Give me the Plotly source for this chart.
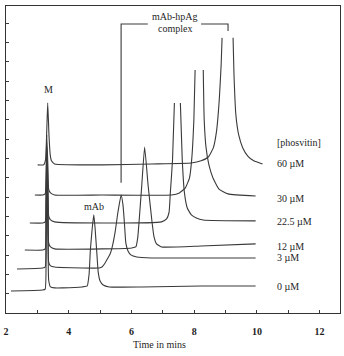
import plotly.graph_objects as go

# ---- data (time in min, detector signal in arbitrary units) ----
conc_labels = ["60 \u00b5M", "30 \u00b5M", "22.5 \u00b5M", "12 \u00b5M", "3 \u00b5M", "0 \u00b5M"]
label_levels = [7.72, 5.91, 4.72, 3.47, 2.85, 1.35]

t_0 = [2.16, 3.17, 3.25, 3.28, 3.30, 3.34, 3.36, 3.42, 3.55, 3.80, 4.43, 4.59, 4.65, 4.69, 4.75, 4.80,
       4.84, 4.89, 4.94, 5.00, 5.10, 5.29, 6.33, 8.22, 9.96]
s_0 = [1.14, 1.19, 1.24, 3.78, 7.15, 3.78, 1.71, 1.35, 1.30, 1.30, 1.35, 1.40, 2.02, 3.26, 4.40, 5.08,
       4.40, 3.26, 2.12, 1.66, 1.45, 1.35, 1.35, 1.40, 1.40]

t_3 = [2.35, 3.17, 3.25, 3.28, 3.30, 3.34, 3.36, 3.42, 3.55, 4.43, 4.97, 5.06, 5.16, 5.25, 5.32, 5.38,
       5.48, 5.57, 5.67, 5.73, 5.78, 5.82, 5.89, 5.98, 6.17, 6.64, 8.22, 9.96]
s_3 = [2.28, 2.33, 2.38, 4.82, 7.93, 4.82, 2.64, 2.44, 2.38, 2.33, 2.33, 2.38, 2.59, 2.85, 3.06, 3.37,
       4.20, 5.23, 6.11, 5.60, 4.56, 3.63, 3.21, 3.01, 2.90, 2.85, 2.85, 2.85]

t_12 = [2.60, 3.17, 3.25, 3.28, 3.30, 3.34, 3.36, 3.42, 3.55, 5.06, 6.01, 6.14, 6.20, 6.24, 6.33, 6.42,
        6.53, 6.66, 6.72, 6.80, 6.96, 8.22, 9.96]
s_12 = [3.26, 3.26, 3.32, 5.85, 8.19, 5.85, 3.63, 3.42, 3.32, 3.32, 3.37, 3.42, 3.89, 4.66, 6.63, 8.60,
        6.63, 4.66, 3.94, 3.58, 3.42, 3.47, 3.58]

t_22 = [2.76, 3.17, 3.25, 3.28, 3.30, 3.34, 3.36, 3.42, 3.55, 5.06, 6.96, 7.12, 7.20, 7.24, 7.31, 7.37,
        None, 7.56, 7.62, 7.69, 7.78, 7.91, 8.07, 8.29, 9.96]
s_22 = [4.66, 4.66, 4.72, 6.37, 8.55, 6.37, 5.03, 4.82, 4.72, 4.66, 4.72, 4.87, 5.23, 6.22, 7.93, 10.88,
        None, 10.88, 7.93, 6.22, 5.44, 5.08, 4.92, 4.82, 4.77]

t_30 = [2.92, 3.17, 3.25, 3.28, 3.30, 3.34, 3.36, 3.42, 3.55, 5.06, 7.28, 7.53, 7.72, 7.85, 7.92, 7.99,
        8.03, None, 8.29, 8.32, 8.38, 8.47, 8.60, 8.79, 9.08, 9.96]
s_30 = [6.11, 6.11, 6.17, 7.41, 9.22, 7.41, 6.42, 6.22, 6.11, 6.11, 6.11, 6.22, 6.48, 6.99, 7.93, 10.00,
        12.59, None, 12.59, 10.00, 8.55, 7.67, 6.99, 6.42, 6.17, 6.06]

t_60 = [3.01, 3.20, 3.26, 3.33, 3.37, 3.41, 3.45, 3.55, 5.06, 6.64, 7.91, 8.22, 8.45, 8.61, 8.71, 8.80,
        8.86, 8.89, None, 9.24, 9.27, 9.33, 9.42, 9.55, 9.71, 9.90, 10.18]
s_60 = [7.67, 7.67, 7.93, 10.88, 9.22, 8.19, 7.88, 7.72, 7.67, 7.72, 7.77, 7.88, 8.08, 8.55, 9.38, 11.04,
        12.85, 14.25, None, 14.25, 12.33, 10.26, 9.22, 8.55, 8.13, 7.88, 7.72]

bracket_t = [5.67, 5.67, 6.52, None, 8.22, 9.08, 9.08]
bracket_s = [6.74, 14.97, 14.97, None, 14.97, 14.97, 14.60]

x_ticks = [2, 3, 4, 5, 6, 7, 8, 9, 10, 11, 12]
x_ticktext = ["<b>2</b>", "", "<b>4</b>", "", "<b>6</b>", "", "<b>8</b>", "", "<b>10</b>", "", "<b>12</b>"]
y_ticks = list(range(0, 16))

LINE = "#3a3a3a"
FONT = "Liberation Serif"

fig = go.Figure()
for t, s in [(t_0, s_0), (t_3, s_3), (t_12, s_12), (t_22, s_22), (t_30, s_30), (t_60, s_60)]:
    fig.add_trace(go.Scatter(x=t, y=s, mode="lines", connectgaps=False,
                             line=dict(color=LINE, width=1.1, shape="spline", smoothing=0.4),
                             hoverinfo="skip", showlegend=False))
fig.add_trace(go.Scatter(x=bracket_t, y=bracket_s, mode="lines", connectgaps=False,
                         line=dict(color=LINE, width=1.1), hoverinfo="skip", showlegend=False))

ann = []
def txt(x, y, s, xa="center", xref="x", yref="y"):
    ann.append(dict(x=x, y=y, text=s, showarrow=False, xanchor=xa, yanchor="middle",
                    xref=xref, yref=yref, font=dict(family=FONT, size=10, color="#1e1e1e")))

txt(3.36, 11.55, "M")
txt(4.81, 5.54, "mAb")
txt(7.40, 15.34, "mAb-hpAg")
txt(7.40, 14.72, "complex")
txt(10.59, 8.81, "[phosvitin]", xa="left")
for lab, lev in zip(conc_labels, label_levels):
    txt(10.59, lev, lab, xa="left")
txt(0.46, -0.101, "Time in mins", xref="paper", yref="paper")

fig.update_layout(
    width=344, height=356,
    margin=dict(l=3, r=4, t=6, b=43),
    paper_bgcolor="white", plot_bgcolor="white",
    annotations=ann,
    xaxis=dict(range=[2.0, 12.65], tickvals=x_ticks, ticktext=x_ticktext,
               ticks="inside", ticklen=3, tickcolor=LINE, showgrid=False, zeroline=False,
               showline=True, linecolor="#333", linewidth=1.3, mirror=True,
               ticklabelstandoff=9,
               tickfont=dict(family=FONT, size=10, color="#1e1e1e")),
    yaxis=dict(range=[0, 15.9], tickvals=y_ticks, showticklabels=False,
               ticks="inside", ticklen=3, tickcolor=LINE, showgrid=False, zeroline=False,
               showline=True, linecolor="#333", linewidth=1.3, mirror=True),
)

fig.write_html("out.html")
